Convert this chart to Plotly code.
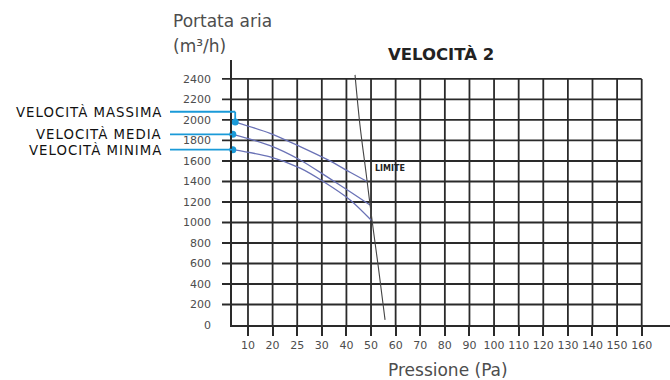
import numpy as np
import plotly.graph_objects as go

# Pressure axis: evenly spaced ticks with non-linear labels
tick_pressure = [10, 20, 25, 30, 40, 50, 60, 70, 80, 90, 100, 110, 120, 130, 140, 150, 160]
tick_labels = [str(v) for v in tick_pressure]
flow_ticks = list(range(0, 2401, 200))

# Fan curves: pressure (Pa) vs air flow (m³/h)
max_pressure = [2, 19, 25.6, 32.5, 41.5, 48.4]
max_flow = [1980, 1870, 1740, 1610, 1490, 1400]
mid_pressure = [0.5, 19, 25.6, 32.5, 41.5, 49.6]
mid_flow = [1860, 1750, 1610, 1440, 1300, 1170]
min_pressure = [0.5, 19, 25.6, 30.6, 41.5, 50.2]
min_flow = [1710, 1640, 1530, 1400, 1220, 1020]

# Operating limit line
limit_pressure = [43.5, 45.5, 48.0, 50.4, 53.0, 55.7]
limit_flow = [2440, 1950, 1480, 1024, 560, 50]

speed_labels = ["VELOCITÀ MASSIMA", "VELOCITÀ MEDIA", "VELOCITÀ MINIMA"]

# axis geometry (index units along x)
X_MIN, X_MAX = -0.65, 17.15
Y_MAX = 2585
LAST = len(tick_pressure) - 1


def pos(p):
    """Map a pressure value to its position on the evenly spaced axis."""
    return np.interp(p, [0] + tick_pressure, [X_MIN] + list(range(len(tick_pressure))))


def xpaper(xv):
    return (xv - X_MIN) / (X_MAX - X_MIN)


W, H = 670, 380
ML, MR, MT, MB = 232, 0, 60, 55
PW, PH = W - ML - MR, H - MT - MB


def px_x(px):
    return (px - ML) / PW


def px_y(py):
    return (H - MB - py) / PH


GRID = "#2a2a2a"
CURVE = "#6a72b6"
CYAN = "#1a9ad8"
GREY = "#4d4d4d"
TITLE_FONT = "DejaVu Sans"

fig = go.Figure()

for pr, fl in [(max_pressure, max_flow), (mid_pressure, mid_flow), (min_pressure, min_flow)]:
    fig.add_trace(go.Scatter(
        x=pos(np.array(pr)), y=fl, mode="lines",
        line=dict(color=CURVE, width=1.3, shape="spline", smoothing=0.8),
        hoverinfo="skip", showlegend=False))

fig.add_trace(go.Scatter(
    x=pos(np.array(limit_pressure)), y=limit_flow, mode="lines",
    line=dict(color="#444444", width=1.1, shape="spline", smoothing=1.0),
    hoverinfo="skip", showlegend=False))

# start-point markers of each speed curve
starts_x = pos(np.array([max_pressure[0], mid_pressure[0], min_pressure[0]]))
starts_y = [max_flow[0], mid_flow[0], min_flow[0]]
fig.add_trace(go.Scatter(
    x=starts_x, y=starts_y, mode="markers",
    marker=dict(color=CYAN, size=7), cliponaxis=False,
    hoverinfo="skip", showlegend=False))

shapes = []
# vertical grid lines
for i in range(len(tick_pressure)):
    shapes.append(dict(type="line", xref="x", yref="y", x0=i, x1=i, y0=0, y1=flow_ticks[-1],
                       line=dict(color=GRID, width=1.8), layer="below"))
# horizontal grid lines with outside tick stubs
for v in flow_ticks[1:]:
    shapes.append(dict(type="line", xref="paper", yref="y", x0=px_x(222), x1=xpaper(LAST),
                       y0=v, y1=v, line=dict(color=GRID, width=1.8), layer="below"))

# leader lines from the speed labels to the curve starts
label_y = [2080, mid_flow[0], min_flow[0]]
annotations = []
for k, (lab, ly) in enumerate(zip(speed_labels, label_y)):
    sx = xpaper(starts_x[k])
    shapes.append(dict(type="line", xref="paper", yref="y", x0=px_x(170), x1=sx,
                       y0=ly, y1=ly, line=dict(color=CYAN, width=1.8)))
    if ly != starts_y[k]:
        shapes.append(dict(type="line", xref="paper", yref="y", x0=sx, x1=sx,
                           y0=ly, y1=starts_y[k], line=dict(color=CYAN, width=1.8)))
    annotations.append(dict(text='<span style="letter-spacing:1px">%s</span>' % lab,
                            xref="paper", yref="y", x=px_x(164), y=ly,
                            xanchor="right", yanchor="middle", showarrow=False,
                            font=dict(family="DejaVu Sans", size=13.3, color="#111111")))

annotations += [
    dict(text="VELOCITÀ 2", xref="paper", yref="paper", x=px_x(441), y=px_y(54),
         xanchor="center", yanchor="middle", showarrow=False,
         font=dict(family="DejaVu Sans", size=16.5, color="#222222", weight="bold")),
    dict(text="Portata aria", xref="paper", yref="paper", x=px_x(171), y=px_y(21),
         xanchor="left", yanchor="middle", showarrow=False,
         font=dict(family=TITLE_FONT, size=17, color=GREY)),
    dict(text="(m³/h)", xref="paper", yref="paper", x=px_x(171), y=px_y(46),
         xanchor="left", yanchor="middle", showarrow=False,
         font=dict(family=TITLE_FONT, size=17, color=GREY)),
    dict(text="Pressione (Pa)", xref="paper", yref="paper", x=px_x(448), y=px_y(370),
         xanchor="center", yanchor="middle", showarrow=False,
         font=dict(family=TITLE_FONT, size=17, color=GREY)),
    dict(text="Portata aria", xref="paper", yref="paper", x=px_x(171), y=px_y(378),
         xanchor="left", yanchor="top", showarrow=False,
         font=dict(family=TITLE_FONT, size=17, color=GREY)),
    dict(text="<b>LIMITE</b>", xref="x", yref="y", x=pos(57.6), y=1530,
         xanchor="center", yanchor="middle", showarrow=False,
         font=dict(family="DejaVu Sans", size=8, color="#222222")),
]

fig.update_layout(
    width=W, height=H,
    margin=dict(l=ML, r=MR, t=MT, b=MB, pad=0),
    paper_bgcolor="white", plot_bgcolor="white",
    shapes=shapes, annotations=annotations,
    xaxis=dict(range=[X_MIN, X_MAX], tickvals=list(range(len(tick_pressure))), ticktext=tick_labels,
               showgrid=False, zeroline=False, showline=True, linecolor=GRID, linewidth=1.8,
               ticks="outside", ticklen=9, tickwidth=1.8, tickcolor=GRID,
               tickfont=dict(family="DejaVu Sans", size=11, color=GREY)),
    yaxis=dict(range=[0, Y_MAX], tickvals=flow_ticks, ticktext=[str(v) for v in flow_ticks],
               showgrid=False, zeroline=False, showline=True, linecolor=GRID, linewidth=1.8,
               ticks="", ticklabelstandoff=17,
               tickfont=dict(family="DejaVu Sans", size=11, color=GREY)),
)

fig.write_html("out.html")
